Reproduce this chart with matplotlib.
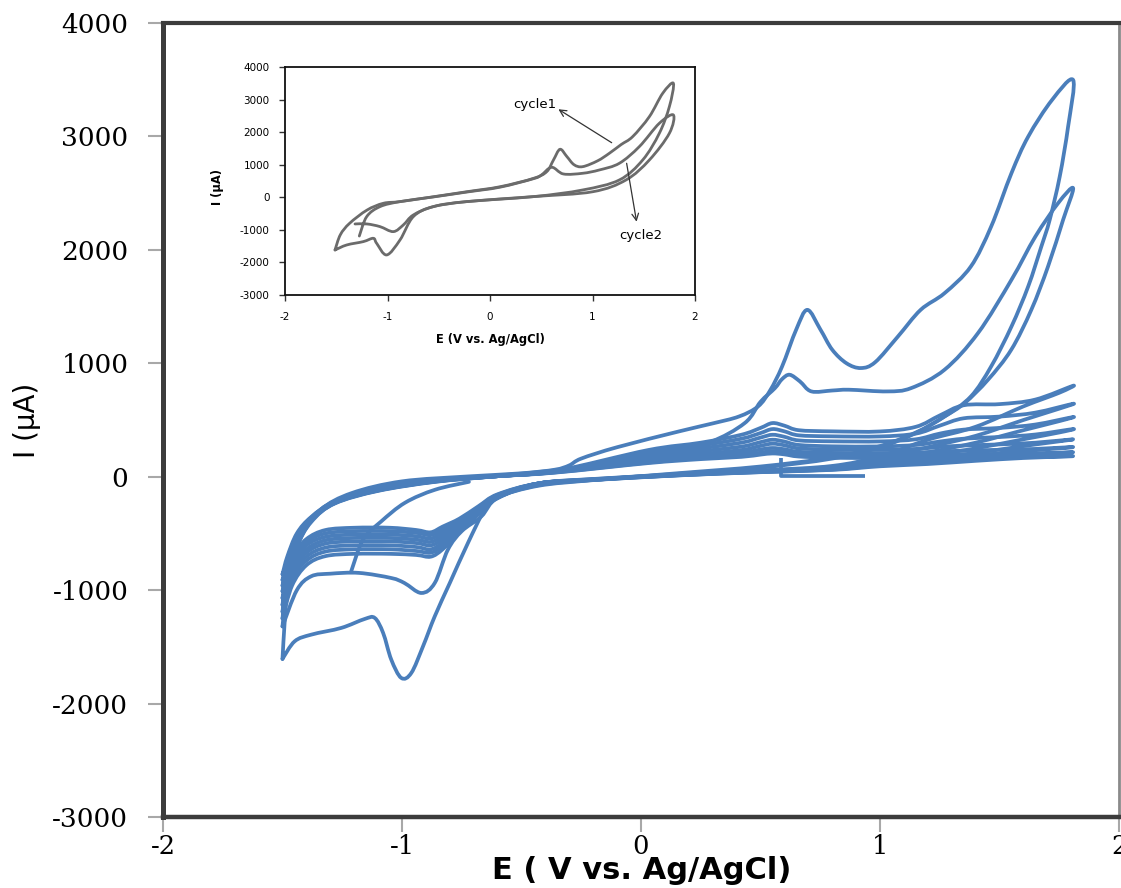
import numpy as np
import matplotlib
matplotlib.use("Agg")
import matplotlib.pyplot as plt
from matplotlib.path import Path
from matplotlib.patches import PathPatch

# ---------------- main voltammogram (E in V vs Ag/AgCl, I in µA) ----------------
x_ticks = [-2, -1, 0, 1, 2]
x_tick_labels = ["-2", "-1", "0", "1", "2"]
y_ticks = [-3000, -2000, -1000, 0, 1000, 2000, 3000, 4000]
y_tick_labels = ["-3000", "-2000", "-1000", "0", "1000", "2000", "3000", "4000"]

# cycle 1
c1_E = [-1.50, -1.49, -1.475, -1.42, -1.34, -1.21, -1.00, -0.72, -0.50, -0.36,
        -0.30, -0.25, -0.10, 0.16, 0.30, 0.41, 0.49, 0.54, 0.59, 0.65,
        0.696, 0.75, 0.80, 0.86, 0.92, 0.98, 1.075, 1.17, 1.27, 1.38,
        1.465, 1.55, 1.62, 1.72, 1.808,
        1.787, 1.752, 1.71, 1.675, 1.62, 1.55, 1.465, 1.38, 1.27, 1.15,
        1.00, 0.80, 0.50, 0.15, -0.20, -0.43, -0.60, -0.654, -0.724, -0.80,
        -0.863, -0.912, -0.961, -1.003, -1.045, -1.079, -1.114, -1.156, -1.254, -1.379,
        -1.449, -1.50]
c1_I = [-1606, -1250, -880, -526, -291, -144, -41, 3, 30, 62,
        100, 160, 260, 400, 470, 531, 620, 760, 970, 1300,
        1471, 1300, 1120, 1000, 958, 1010, 1236, 1471, 1618, 1853,
        2205, 2676, 2998, 3322, 3498,
        3086, 2646, 2264, 2029, 1677, 1324, 972, 707, 531, 390,
        270, 170, 90, 30, -30, -80, -180, -291, -584, -937,
        -1231, -1495, -1730, -1774, -1612, -1377, -1245, -1254, -1333, -1392,
        -1451, -1606]

# cycle 2
c2_E = [-1.50, -1.48, -1.44, -1.38, -1.28, -1.10, -0.86, -0.60, -0.36, 0.03,
        0.28, 0.434, 0.50, 0.56, 0.59, 0.622, 0.665, 0.713, 0.80, 0.87,
        1.03, 1.13, 1.27, 1.41, 1.55, 1.65, 1.745, 1.808,
        1.766, 1.703, 1.633, 1.549, 1.452, 1.354, 1.27, 1.15, 1.00, 0.80,
        0.50, 0.15, -0.20, -0.43, -0.60, -0.668, -0.75, -0.808, -0.863, -0.919,
        -0.99, -1.045, -1.18, -1.30, -1.38, -1.44, -1.50]
c2_I = [-1320, -950, -620, -400, -230, -120, -40, 10, 55, 150,
        297, 473, 660, 780, 860, 899, 840, 752, 760, 767,
        752, 781, 943, 1266, 1736, 2117, 2411, 2544,
        2264, 1853, 1471, 1119, 855, 649, 531, 385, 260, 160,
        80, 25, -28, -75, -185, -350, -480, -643, -937, -1025,
        -937, -893, -848, -855, -878, -1000, -1320]

# later cycles share the same potential steps
fwd_E = [-1.50, -1.48, -1.44, -1.38, -1.28, -1.10, -0.86, -0.60, -0.36, 0.03,
         0.25, 0.42, 0.50, 0.55, 0.60, 0.66, 0.80, 1.00, 1.15, 1.25,
         1.35, 1.50, 1.65, 1.808]
rev_E = [1.75, 1.60, 1.40, 1.20, 1.00, 0.80, 0.50, 0.15, -0.20, -0.43,
         -0.60, -0.68, -0.76, -0.83, -0.88, -0.94, -1.05, -1.20, -1.32, -1.40,
         -1.46, -1.50]

c3_fwd = [-1250, -900, -600, -390, -235, -125, -45, 5, 50, 235, 300, 370, 430, 473, 450, 410, 400, 399, 440, 540, 630, 640, 680, 802]
c3_rev = [740, 620, 440, 326, 180, 95, 55, 20, -20, -60, -190, -330, -490, -640, -705, -690, -680, -680, -700, -780, -960, -1250]
c4_fwd = [-1190, -870, -590, -385, -232, -122, -43, 5, 48, 210, 275, 335, 385, 420, 400, 365, 356, 355, 380, 450, 515, 530, 565, 643]
c4_rev = [600, 500, 360, 260, 165, 88, 52, 18, -22, -60, -185, -320, -470, -610, -670, -655, -640, -640, -660, -740, -910, -1190]
c5_fwd = [-1130, -840, -575, -380, -228, -119, -41, 5, 46, 190, 250, 300, 345, 370, 352, 320, 312, 311, 330, 380, 415, 430, 460, 526]
c5_rev = [490, 410, 300, 215, 150, 80, 50, 16, -24, -60, -180, -310, -450, -580, -640, -620, -605, -605, -625, -705, -870, -1130]
c6_fwd = [-1070, -810, -560, -375, -225, -116, -39, 5, 44, 170, 225, 265, 305, 326, 310, 280, 268, 267, 280, 310, 335, 350, 372, 420]
c6_rev = [390, 330, 250, 185, 135, 75, 48, 15, -25, -60, -175, -300, -430, -550, -605, -585, -570, -570, -590, -670, -830, -1070]
c7_fwd = [-1010, -780, -545, -370, -222, -113, -37, 5, 42, 150, 200, 235, 272, 291, 277, 250, 239, 238, 245, 262, 275, 285, 300, 330]
c7_rev = [312, 270, 210, 160, 120, 70, 45, 14, -26, -60, -170, -290, -415, -520, -575, -555, -540, -540, -560, -640, -800, -1010]
c8_fwd = [-960, -755, -530, -365, -220, -110, -35, 5, 40, 135, 180, 210, 240, 253, 242, 220, 210, 209, 213, 222, 230, 237, 245, 262]
c8_rev = [250, 225, 180, 140, 110, 66, 43, 13, -27, -60, -165, -280, -400, -490, -545, -525, -510, -510, -530, -605, -765, -960]
c9_fwd = [-910, -730, -515, -360, -217, -107, -33, 5, 38, 125, 165, 190, 212, 225, 215, 195, 186, 185, 187, 192, 197, 202, 207, 216]
c9_rev = [208, 190, 158, 125, 100, 63, 41, 12, -28, -60, -160, -270, -385, -465, -515, -495, -480, -480, -500, -575, -735, -910]
c10_fwd = [-860, -705, -500, -355, -215, -105, -31, 5, 36, 120, 155, 175, 195, 205, 197, 178, 167, 165, 166, 168, 171, 174, 177, 182]
c10_rev = [176, 165, 140, 112, 92, 60, 40, 11, -29, -60, -155, -260, -370, -440, -490, -470, -450, -450, -470, -550, -700, -860]

# first sweep leaving the starting potential, and the short trailing segment
start_E = [-1.213, -1.163, -1.088, -0.987, -0.862, -0.72]
start_I = [-837, -555, -396, -229, -115, -45]
tail_E = [0.587, 0.587, 0.936]
tail_I = [165, 3, 3]

# ---------------- inset: first two cycles ----------------
i1_E = [-1.512, -1.46, -1.37, -1.20, -1.04, -0.878, -0.553, -0.228, 0.098, 0.423,
        0.553, 0.62, 0.683, 0.75, 0.82, 0.904, 1.05, 1.164, 1.28, 1.392,
        1.555, 1.685, 1.789,
        1.75, 1.652, 1.49, 1.262, 0.904, 0.423, -0.228, -0.553, -0.748, -0.878,
        -1.008, -1.106, -1.138, -1.236, -1.398, -1.512]
i1_I = [-1618, -1150, -800, -393, -184, -133, 16, 170, 324, 580,
        785, 1150, 1474, 1250, 1000, 940, 1120, 1350, 1620, 1863,
        2477, 3193, 3500,
        2784, 1965, 1146, 532, 225, 20, -133, -287, -594, -1310,
        -1770, -1412, -1259, -1361, -1464, -1618]
i2_E = [-1.275, -1.203, -1.073, -0.878, -0.553, -0.228, 0.098, 0.423, 0.50, 0.602,
        0.716, 0.904, 1.067, 1.262, 1.457, 1.652, 1.789,
        1.75, 1.555, 1.327, 1.002, 0.423, -0.228, -0.553, -0.748, -0.846,
        -0.943, -1.073, -1.20, -1.317]
i2_I = [-1190, -594, -287, -133, 10, 160, 310, 570, 680, 921,
        716, 737, 839, 1044, 1556, 2272, 2528,
        1965, 1146, 532, 170, 20, -133, -287, -543, -850,
        -1054, -901, -819, -819]

BLUE = "#4A7EBB"
GREY = "#6B6B6B"


def smooth_path(E, I):
    """Cubic Bezier path through the points (Catmull-Rom style, like a smoothed line chart)."""
    p = np.column_stack([E, I]).astype(float)
    n = len(p)
    verts = [p[0]]
    codes = [Path.MOVETO]
    for k in range(n - 1):
        p0 = p[k - 1] if k > 0 else p[k]
        p1 = p[k]
        p2 = p[k + 1]
        p3 = p[k + 2] if k + 2 < n else p[k + 1]
        verts += [p1 + (p2 - p0) / 6.0, p2 - (p3 - p1) / 6.0, p2]
        codes += [Path.CURVE4] * 3
    return Path(verts, codes)


def draw_curve(ax, E, I, color, lw):
    ax.add_patch(PathPatch(smooth_path(E, I), fill=False, edgecolor=color,
                           lw=lw, capstyle="round", joinstyle="round"))


fig = plt.figure(figsize=(11.21, 8.88), dpi=100)
fig.patch.set_facecolor("white")

ax = fig.add_axes([163 / 1121, 1 - 817 / 888, (1119 - 163) / 1121, (817 - 23) / 888])
ax.set_xlim(-2, 2)
ax.set_ylim(-3000, 4000)

small_cycles = [(c3_fwd, c3_rev), (c4_fwd, c4_rev), (c5_fwd, c5_rev), (c6_fwd, c6_rev),
                (c7_fwd, c7_rev), (c8_fwd, c8_rev), (c9_fwd, c9_rev), (c10_fwd, c10_rev)]
LW = 2.7
for fwd, rev in small_cycles:
    draw_curve(ax, fwd_E + rev_E, fwd + rev, BLUE, LW)
draw_curve(ax, c2_E, c2_I, BLUE, LW)
draw_curve(ax, c1_E, c1_I, BLUE, LW)
draw_curve(ax, start_E, start_I, BLUE, LW)
ax.plot(tail_E, tail_I, color=BLUE, lw=LW, solid_capstyle="butt")

ax.set_xticks(x_ticks)
ax.set_xticklabels(x_tick_labels, family="DejaVu Serif", fontsize=18.5)
ax.set_yticks(y_ticks)
ax.set_yticklabels(y_tick_labels, family="DejaVu Serif", fontsize=19)
ax.tick_params(axis="both", direction="out", length=11, width=1.5, color="#a8a8a8")
ax.tick_params(axis="y", pad=14)
ax.tick_params(axis="x", pad=1.5)

for side, lw, col in [("left", 3.6, "#3c3c3c"), ("bottom", 3.2, "#3c3c3c"),
                      ("top", 3.0, "#3c3c3c"), ("right", 2.0, "#8a8a8a")]:
    ax.spines[side].set_linewidth(lw)
    ax.spines[side].set_color(col)

ax.set_xlabel("E ( V vs. Ag/AgCl)", family="DejaVu Sans", fontweight="bold", fontsize=22, va="center")
ax.xaxis.set_label_coords((642 - 163) / 956, (817 - 870) / 794)
ax.set_ylabel("I (µA)", family="DejaVu Sans", fontsize=20, va="center")
ax.yaxis.set_label_coords((27 - 163) / 956, (817 - 420) / 794)

# ---------------- inset ----------------
ins = fig.add_axes([285 / 1121, 1 - 295 / 888, 410 / 1121, 228 / 888])
ins.set_xlim(-2, 2)
ins.set_ylim(-3000, 4000)
draw_curve(ins, i1_E, i1_I, GREY, 2.0)
draw_curve(ins, i2_E, i2_I, GREY, 2.0)
ins.set_xticks(x_ticks)
ins.set_xticklabels(x_tick_labels, family="DejaVu Sans", fontsize=7.5)
ins.set_yticks(y_ticks)
ins.set_yticklabels(y_tick_labels, family="DejaVu Sans", fontsize=7.5)
ins.tick_params(direction="out", length=4, width=1.0, color="#333333")
ins.tick_params(axis="x", pad=8)
ins.tick_params(axis="y", pad=7)
for s in ins.spines.values():
    s.set_linewidth(1.3)
    s.set_color("#111111")
ins.set_xlabel("E (V vs. Ag/AgCl)", family="DejaVu Sans", fontweight="bold", fontsize=8.3, va="center")
ins.xaxis.set_label_coords(0.5, (295 - 340) / 228)
ins.set_ylabel("I (µA)", family="DejaVu Sans", fontweight="bold", fontsize=8.3, va="center")
ins.yaxis.set_label_coords((218 - 285) / 410, (295 - 187) / 228)

arrow_kw = dict(arrowstyle="->", color="#333333", lw=0.9, shrinkA=0, shrinkB=0, mutation_scale=12)
ins.annotate("", xy=(0.667, 2702), xytext=(1.187, 1676), arrowprops=arrow_kw)
ins.annotate("", xy=(1.43, -749), xytext=(1.333, 1044), arrowprops=arrow_kw)
ins.text(0.44, 2834, "cycle1", ha="center", va="center", family="DejaVu Sans", fontsize=9.5)
ins.text(1.468, -1188, "cycle2", ha="center", va="center", family="DejaVu Sans", fontsize=9.5)

fig.savefig("out.png", dpi=100)
